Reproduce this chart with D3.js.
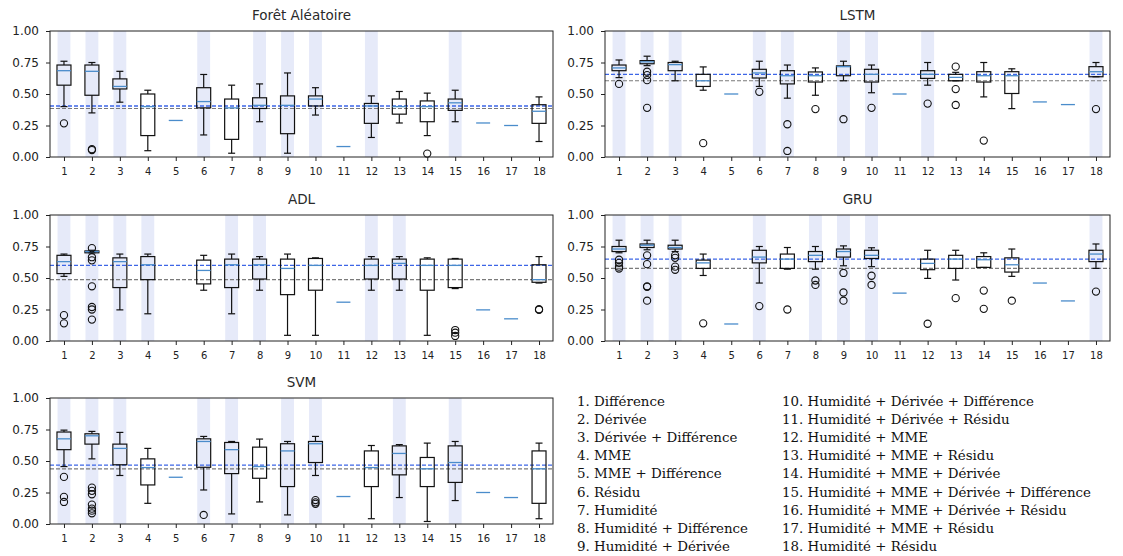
<!DOCTYPE html>
<html><head><meta charset="utf-8">
<script src="https://cdn.jsdelivr.net/npm/d3@7"></script>
<style>body{margin:0;background:#fff}svg{display:block}</style>
</head><body>
<svg id="chart" width="1123" height="556"></svg>
<script>
const categories = ["1","2","3","4","5","6","7","8","9","10","11","12","13","14","15","16","17","18"];
const yTicks = [0, 0.25, 0.5, 0.75, 1.0];
const titles = ["Forêt Aléatoire", "LSTM", "ADL", "GRU", "SVM"];

// [whiskerLow, q1, median, q3, whiskerHigh]; null = no data
const rfBoxes = [
  [0.40,0.57,0.685,0.73,0.76],[0.35,0.49,0.68,0.73,0.75],[0.435,0.54,0.56,0.62,0.68],[0.05,0.17,0.40,0.50,0.53],
  [0.29,0.29,0.29,0.29,0.29],[0.175,0.39,0.44,0.55,0.655],[0.03,0.14,0.39,0.46,0.57],[0.28,0.385,0.41,0.47,0.58],
  [0.03,0.185,0.41,0.485,0.667],[0.333,0.405,0.46,0.485,0.55],[0.083,0.083,0.083,0.083,0.083],[0.155,0.267,0.405,0.425,0.485],
  [0.27,0.34,0.40,0.46,0.52],[0.17,0.28,0.40,0.445,0.507],[0.28,0.37,0.43,0.46,0.53],[0.27,0.27,0.27,0.27,0.27],
  [0.25,0.25,0.25,0.25,0.25],[0.123,0.267,0.363,0.415,0.477]];
const rfOutliers = [[0.267],[0.055,0.062],[],[],[],[],[],[],[],[],[],[],[],[0.027],[],[],[],[]];
const rfBands = [1,2,3,6,8,9,10,12,15];
const rfRefs = [0.405, 0.385];

const lstmBoxes = [
  [0.63,0.685,0.707,0.73,0.77],[0.725,0.74,0.755,0.765,0.80],[0.605,0.685,0.733,0.75,0.76],[0.53,0.56,0.605,0.656,0.715],
  [0.50,0.50,0.50,0.50,0.50],[0.56,0.627,0.667,0.696,0.76],[0.467,0.58,0.645,0.685,0.73],[0.49,0.595,0.645,0.675,0.707],
  [0.605,0.645,0.717,0.723,0.76],[0.51,0.595,0.656,0.696,0.73],[0.50,0.50,0.50,0.50,0.50],[0.57,0.624,0.656,0.685,0.75],
  [0.605,0.605,0.632,0.656,0.672],[0.477,0.595,0.645,0.677,0.75],[0.384,0.504,0.645,0.677,0.70],[0.437,0.437,0.437,0.437,0.437],
  [0.416,0.416,0.416,0.416,0.416],[0.637,0.637,0.677,0.717,0.75]];
const lstmOutliers = [[0.58],[0.677,0.65,0.61,0.39],[],[0.11],[],[0.517],[0.26,0.048],[0.38],[0.30],[0.39],[],[0.424],[0.717,0.539,0.413],[0.13],[],[],[],[0.38]];
const lstmBands = [1,2,3,6,7,9,10,12,18];
const lstmRefs = [0.656, 0.605];

const adlBoxes = [
  [0.513,0.535,0.63,0.68,0.69],[0.70,0.70,0.71,0.715,0.72],[0.247,0.424,0.63,0.66,0.69],[0.216,0.487,0.605,0.67,0.69],
  null,[0.403,0.453,0.56,0.642,0.68],[0.216,0.424,0.605,0.65,0.69],[0.403,0.492,0.605,0.65,0.67],
  [0.045,0.368,0.576,0.65,0.69],[0.045,0.403,0.60,0.655,0.66],[0.308,0.308,0.308,0.308,0.308],[0.403,0.492,0.60,0.65,0.67],
  [0.403,0.492,0.616,0.65,0.67],[0.045,0.403,0.60,0.65,0.66],[0.416,0.424,0.60,0.65,0.655],[0.247,0.247,0.247,0.247,0.247],
  [0.176,0.176,0.176,0.176,0.176],[0.46,0.466,0.487,0.605,0.67]];
const adlOutliers = [[0.205,0.14],[0.737,0.665,0.64,0.434,0.27,0.25,0.17],[],[],[],[],[],[],[],[],[],[],[],[],[0.087,0.066,0.04],[],[],[0.247,0.252]];
const adlBands = [1,2,3,4,7,8,12,13];
const adlRefs = [0.60, 0.487];

const gruBoxes = [
  [0.70,0.71,0.73,0.75,0.80],[0.724,0.742,0.76,0.77,0.80],[0.71,0.73,0.742,0.76,0.80],[0.52,0.576,0.62,0.642,0.69],
  [0.135,0.135,0.135,0.135,0.135],[0.46,0.62,0.666,0.72,0.75],[0.57,0.576,0.65,0.69,0.742],[0.57,0.63,0.68,0.71,0.75],
  [0.597,0.666,0.71,0.73,0.755],[0.59,0.655,0.68,0.72,0.74],[0.38,0.38,0.38,0.38,0.38],[0.497,0.566,0.616,0.65,0.72],
  [0.484,0.576,0.65,0.68,0.72],[0.584,0.584,0.645,0.67,0.70],[0.513,0.547,0.605,0.66,0.73],[0.46,0.46,0.46,0.46,0.46],
  [0.318,0.318,0.318,0.318,0.318],[0.576,0.63,0.69,0.72,0.77]];
const gruOutliers = [[0.645,0.62,0.59,0.575],[0.68,0.61,0.434,0.43,0.32],[0.68,0.66,0.59,0.565],[0.14],[],[0.277],[0.25],[0.48,0.445],[0.54,0.385,0.32],[0.518,0.445],[],[0.137],[0.34],[0.40,0.255],[0.32],[],[],[0.392]];
const gruBands = [1,2,3,6,8,9,10,18];
const gruRefs = [0.65, 0.576];

const svmBoxes = [
  [0.456,0.59,0.676,0.73,0.745],[0.517,0.634,0.70,0.716,0.735],[0.385,0.47,0.60,0.634,0.727],[0.164,0.31,0.448,0.517,0.60],
  [0.371,0.371,0.371,0.371,0.371],[0.27,0.45,0.655,0.676,0.695],[0.08,0.40,0.59,0.647,0.655],[0.175,0.363,0.456,0.61,0.674],
  [0.072,0.297,0.58,0.637,0.655],[0.385,0.488,0.637,0.655,0.695],[0.218,0.218,0.218,0.218,0.218],[0.042,0.297,0.448,0.58,0.623],
  [0.21,0.39,0.56,0.62,0.63],[0.02,0.297,0.438,0.528,0.642],[0.186,0.33,0.488,0.62,0.655],[0.25,0.25,0.25,0.25,0.25],
  [0.21,0.21,0.21,0.21,0.21],[0.042,0.164,0.438,0.58,0.642]];
const svmOutliers = [[0.374,0.215,0.175],[0.289,0.263,0.236,0.154,0.122,0.106,0.085],[],[],[],[0.072],[],[],[],[0.19,0.172,0.16],[],[],[],[],[],[],[],[]];
const svmBands = [1,2,3,6,7,9,10,13,15];
const svmRefs = [0.467, 0.438];

const legendCol1 = ["1. Différence","2. Dérivée","3. Dérivée + Différence","4. MME","5. MME + Différence","6. Résidu","7. Humidité","8. Humidité + Différence","9. Humidité + Dérivée"];
const legendCol2 = ["10. Humidité + Dérivée + Différence","11. Humidité + Dérivée + Résidu","12. Humidité + MME","13. Humidité + MME + Résidu","14. Humidité + MME + Dérivée","15. Humidité + MME + Dérivée + Différence","16. Humidité + MME + Dérivée + Résidu","17. Humidité + MME + Résidu","18. Humidité + Résidu"];

const panels = [
  {title:titles[0], boxes:rfBoxes, out:rfOutliers, bands:rfBands, refs:rfRefs, x0:50, x1:553, y0:31, y1:157},
  {title:titles[1], boxes:lstmBoxes, out:lstmOutliers, bands:lstmBands, refs:lstmRefs, x0:605, x1:1110, y0:31, y1:157},
  {title:titles[2], boxes:adlBoxes, out:adlOutliers, bands:adlBands, refs:adlRefs, x0:50, x1:553, y0:215, y1:341},
  {title:titles[3], boxes:gruBoxes, out:gruOutliers, bands:gruBands, refs:gruRefs, x0:605, x1:1110, y0:215, y1:341},
  {title:titles[4], boxes:svmBoxes, out:svmOutliers, bands:svmBands, refs:svmRefs, x0:50, x1:553, y0:398, y1:524}
];

const svg = d3.select("#chart");
const medColor = "#4a8ccb", bandColor = "#e6eaf9";

panels.forEach(p => {
  const x = d3.scaleLinear().domain([0.5, 18.5]).range([p.x0, p.x1]);
  const y = d3.scaleLinear().domain([0, 1]).range([p.y1, p.y0]);
  const g = svg.append("g");
  const bw = 0.25, cw = 0.125, bandW = 0.23;

  g.selectAll("rect.band").data(p.bands).enter().append("rect")
    .attr("x", d => x(d - bandW)).attr("width", d => x(d + bandW) - x(d - bandW))
    .attr("y", p.y0).attr("height", p.y1 - p.y0).attr("fill", bandColor);

  g.append("line").attr("x1", p.x0).attr("x2", p.x1).attr("y1", y(p.refs[1])).attr("y2", y(p.refs[1]))
    .attr("stroke", "#7a7a7a").attr("stroke-width", 1.2).attr("stroke-dasharray", "4,2");
  g.append("line").attr("x1", p.x0).attr("x2", p.x1).attr("y1", y(p.refs[0])).attr("y2", y(p.refs[0]))
    .attr("stroke", "#3d66e6").attr("stroke-width", 1.4).attr("stroke-dasharray", "4,2");

  p.boxes.forEach((b, i) => {
    if (!b) return;
    const c = i + 1;
    const [lo, q1, med, q3, hi] = b;
    const bg = g.append("g").attr("fill", "none").attr("stroke", "#111").attr("stroke-width", 1.2);
    if (q3 > q1 || hi > lo) {
      bg.append("line").attr("x1", x(c)).attr("x2", x(c)).attr("y1", y(lo)).attr("y2", y(q1));
      bg.append("line").attr("x1", x(c)).attr("x2", x(c)).attr("y1", y(q3)).attr("y2", y(hi));
      bg.append("line").attr("x1", x(c - cw)).attr("x2", x(c + cw)).attr("y1", y(lo)).attr("y2", y(lo));
      bg.append("line").attr("x1", x(c - cw)).attr("x2", x(c + cw)).attr("y1", y(hi)).attr("y2", y(hi));
      bg.append("rect").attr("x", x(c - bw)).attr("width", x(c + bw) - x(c - bw))
        .attr("y", y(q3)).attr("height", Math.max(0, y(q1) - y(q3)));
    }
    g.append("line").attr("x1", x(c - bw)).attr("x2", x(c + bw)).attr("y1", y(med)).attr("y2", y(med))
      .attr("stroke", medColor).attr("stroke-width", 1.3);
    g.selectAll(null).data(p.out[i]).enter().append("circle")
      .attr("cx", x(c)).attr("cy", d => y(d)).attr("r", 3.6)
      .attr("fill", "none").attr("stroke", "#111").attr("stroke-width", 1.1);
  });

  g.append("rect").attr("x", p.x0).attr("y", p.y0).attr("width", p.x1 - p.x0).attr("height", p.y1 - p.y0)
    .attr("fill", "none").attr("stroke", "#222").attr("stroke-width", 1);

  const ya = g.append("g").attr("transform", `translate(${p.x0},0)`)
    .call(d3.axisLeft(y).tickValues(yTicks).tickFormat(d3.format(".2f")).tickSize(4).tickSizeOuter(0).tickPadding(7));
  ya.select(".domain").remove();
  ya.selectAll("text").attr("font-family", "DejaVu Sans").attr("font-size", 12).attr("fill", "#222");
  ya.selectAll("line").attr("stroke", "#222");

  const xa = g.append("g").attr("transform", `translate(0,${p.y1})`)
    .call(d3.axisBottom(x).tickValues(categories.map(Number)).tickFormat((d, i) => categories[i]).tickSize(4).tickSizeOuter(0).tickPadding(7));
  xa.select(".domain").remove();
  xa.selectAll("text").attr("font-family", "DejaVu Sans").attr("font-size", 10).attr("fill", "#222");
  xa.selectAll("line").attr("stroke", "#222");

  g.append("text").attr("x", (p.x0 + p.x1) / 2).attr("y", p.y0 - 11)
    .attr("text-anchor", "middle").attr("font-family", "DejaVu Sans").attr("font-weight", "normal")
    .attr("font-size", 13.5).attr("fill", "#2a2a2a")
    .text(p.title);
});

const lg = svg.append("g").attr("font-family", "DejaVu Serif").attr("font-size", 13.4).attr("fill", "#111");
lg.selectAll("text.c1").data(legendCol1).enter().append("text")
  .attr("x", 577).attr("y", (d, i) => 406 + i * 18.1).text(d => d);
lg.selectAll("text.c2").data(legendCol2).enter().append("text")
  .attr("x", 782).attr("y", (d, i) => 406 + i * 18.1).text(d => d);
</script>
</body></html>
